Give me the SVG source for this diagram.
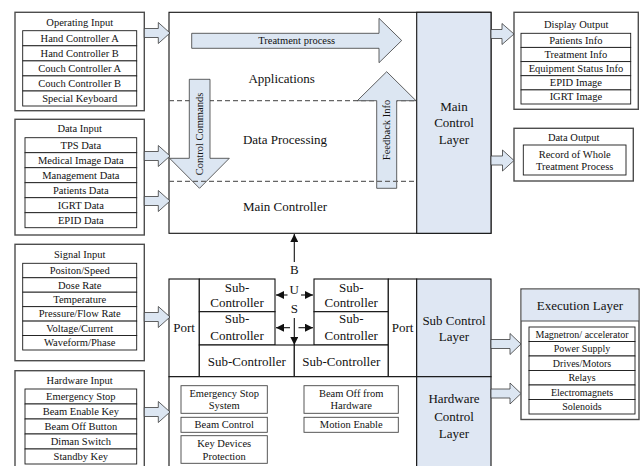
<svg xmlns="http://www.w3.org/2000/svg" width="641" height="466" viewBox="0 0 641 466">
<defs>
<style>
text { font-family: "Liberation Serif", "Times New Roman", serif; font-size: 10.5px; text-anchor: middle; fill: #111; }
.big { font-size: 13px; }
.sm { font-size: 10px; }
.outer { fill: #fff; stroke: #4d4d4d; stroke-width: 1.4; }
.cell { fill: #fff; stroke: #1a1a1a; stroke-width: 0.9; }
.gcell { fill: #fff; stroke: #444; stroke-width: 0.9; }
.frame { fill: #fff; stroke: #111; stroke-width: 1.1; }
.blue { fill: #dfe7f3; stroke: #111; stroke-width: 1.1; }
.arr { fill: #dce6f2; stroke: #3a3a3a; stroke-width: 0.8; }
.dash { stroke: #666; stroke-width: 1.2; stroke-dasharray: 5 3; fill: none; }
.bus { stroke: #111; stroke-width: 1.1; fill: none; }
</style>
<marker id="ah" viewBox="0 0 10 10" refX="10" refY="5" markerUnits="userSpaceOnUse" markerWidth="8" markerHeight="8" orient="auto">
<path d="M0,0 L10,5 L0,10 Z" fill="#111"/>
</marker>
</defs>
<rect width="641" height="466" fill="#fff"/>

<!-- Main controller block -->
<g id="main-controller">
<rect class="frame" x="169" y="12.3" width="322" height="221"/>
<rect class="blue" x="416.7" y="12.3" width="74.3" height="221"/>
<line class="dash" x1="169" y1="100.7" x2="416.7" y2="100.7"/>
<text class="big" x="281.7" y="82.7">Applications</text>
<text class="big" x="285" y="144.4">Data Processing</text>
<text class="big" x="285" y="211">Main Controller</text>
<text class="big" x="454" y="110.5">Main</text>
<text class="big" x="454" y="127">Control</text>
<text class="big" x="454" y="143.5">Layer</text>
</g>

<!-- Operating Input -->
<g id="operating-input">
<rect class="outer" x="15" y="12.3" width="129.3" height="98.4"/>
<text x="79.7" y="26">Operating Input</text>
<rect class="cell" x="22.7" y="30.7" width="114" height="15.1"/>
<rect class="cell" x="22.7" y="45.8" width="114" height="15.1"/>
<rect class="cell" x="22.7" y="60.9" width="114" height="15"/>
<rect class="cell" x="22.7" y="75.9" width="114" height="15.1"/>
<rect class="cell" x="22.7" y="91" width="114" height="15"/>
<text x="79.7" y="41.7">Hand Controller A</text>
<text x="79.7" y="56.8">Hand Controller B</text>
<text x="79.7" y="71.9">Couch Controller A</text>
<text x="79.7" y="87">Couch Controller B</text>
<text x="79.7" y="102">Special Keyboard</text>
</g>

<!-- Data Input -->
<g id="data-input">
<rect class="outer" x="15" y="119.3" width="129.3" height="115.7"/>
<text x="79.7" y="132">Data Input</text>
<rect class="cell" x="25" y="137.7" width="111.7" height="15"/>
<rect class="cell" x="25" y="152.7" width="111.7" height="15"/>
<rect class="cell" x="25" y="167.7" width="111.7" height="15"/>
<rect class="cell" x="25" y="182.7" width="111.7" height="15"/>
<rect class="cell" x="25" y="197.7" width="111.7" height="15"/>
<rect class="cell" x="25" y="212.7" width="111.7" height="15"/>
<text x="80.85" y="148.7">TPS Data</text>
<text x="80.85" y="163.7">Medical Image Data</text>
<text x="80.85" y="178.7">Management Data</text>
<text x="80.85" y="193.7">Patients Data</text>
<text x="80.85" y="208.7">IGRT Data</text>
<text x="80.85" y="223.7">EPID Data</text>
</g>

<!-- Signal Input -->
<g id="signal-input">
<rect class="outer" x="15" y="244.3" width="129.3" height="116.4"/>
<text x="79.7" y="257.5">Signal Input</text>
<rect class="cell" x="22.7" y="263.3" width="114" height="14.45"/>
<rect class="cell" x="22.7" y="277.75" width="114" height="14.45"/>
<rect class="cell" x="22.7" y="292.2" width="114" height="14.45"/>
<rect class="cell" x="22.7" y="306.65" width="114" height="14.45"/>
<rect class="cell" x="22.7" y="321.1" width="114" height="14.45"/>
<rect class="cell" x="22.7" y="335.55" width="114" height="14.45"/>
<text x="79.7" y="274">Positon/Speed</text>
<text x="79.7" y="288.5">Dose Rate</text>
<text x="79.7" y="302.9">Temperature</text>
<text x="79.7" y="317.4">Pressure/Flow Rate</text>
<text x="79.7" y="331.8">Voltage/Current</text>
<text x="79.7" y="346.3">Waveform/Phase</text>
</g>

<!-- Hardware Input -->
<g id="hardware-input">
<rect class="outer" x="15" y="370.7" width="129.3" height="100"/>
<text x="79.7" y="383.5">Hardware Input</text>
<rect class="cell" x="25" y="389" width="111.7" height="15"/>
<rect class="cell" x="25" y="404" width="111.7" height="15"/>
<rect class="cell" x="25" y="419" width="111.7" height="15"/>
<rect class="cell" x="25" y="434" width="111.7" height="15"/>
<rect class="cell" x="25" y="449" width="111.7" height="15"/>
<text x="80.85" y="400">Emergency Stop</text>
<text x="80.85" y="415">Beam Enable Key</text>
<text x="80.85" y="430">Beam Off Button</text>
<text x="80.85" y="445">Diman Switch</text>
<text x="80.85" y="460">Standby Key</text>
</g>

<!-- Display Output -->
<g id="display-output">
<rect class="outer" x="514" y="12.3" width="124.3" height="97"/>
<text x="576.2" y="27.5">Display Output</text>
<rect class="cell" x="521" y="33.3" width="109.7" height="14.1"/>
<rect class="cell" x="521" y="47.4" width="109.7" height="14.2"/>
<rect class="cell" x="521" y="61.6" width="109.7" height="14.1"/>
<rect class="cell" x="521" y="75.7" width="109.7" height="14.2"/>
<rect class="cell" x="521" y="89.9" width="109.7" height="14.1"/>
<text x="575.9" y="43.9">Patients Info</text>
<text x="575.9" y="58">Treatment Info</text>
<text x="575.9" y="72.1">Equipment Status Info</text>
<text x="575.9" y="86.3">EPID Image</text>
<text x="575.9" y="100.4">IGRT Image</text>
</g>

<!-- Data Output -->
<g id="data-output">
<rect class="outer" x="514" y="128.3" width="119.3" height="52.7"/>
<text x="573.7" y="140.8">Data Output</text>
<rect class="cell" x="523.3" y="145" width="102.7" height="30"/>
<text x="574.7" y="157.5">Record of Whole</text>
<text x="574.7" y="170.2">Treatment Process</text>
</g>

<!-- Sub control area -->
<g id="sub-control">
<rect class="frame" x="169" y="279" width="30.3" height="97.7"/>
<text class="big" x="184" y="332.4">Port</text>
<rect class="frame" x="199.3" y="279" width="75.7" height="32.7"/>
<rect class="frame" x="199.3" y="311.7" width="75.7" height="33.3"/>
<rect class="frame" x="314" y="279" width="74.3" height="32.7"/>
<rect class="frame" x="314" y="311.7" width="74.3" height="33.3"/>
<rect class="frame" x="199.3" y="345" width="95" height="31.7"/>
<rect class="frame" x="294.3" y="345" width="94" height="31.7"/>
<rect class="frame" x="388.3" y="279" width="28.4" height="97.7"/>
<text class="big" x="402.5" y="332.4">Port</text>
<text class="big" x="237" y="291.7">Sub-</text>
<text class="big" x="237" y="306.7">Controller</text>
<text class="big" x="237" y="322.7">Sub-</text>
<text class="big" x="237" y="340.4">Controller</text>
<text class="big" x="351.2" y="291.7">Sub-</text>
<text class="big" x="351.2" y="306.7">Controller</text>
<text class="big" x="351.2" y="322.7">Sub-</text>
<text class="big" x="351.2" y="340.4">Controller</text>
<text class="big" x="246.8" y="366">Sub-Controller</text>
<text class="big" x="341.3" y="366">Sub-Controller</text>
<rect class="blue" x="416.7" y="279" width="74.3" height="97.7"/>
<text class="big" x="454" y="325">Sub Control</text>
<text class="big" x="454" y="340.5">Layer</text>
</g>

<!-- Hardware control area -->
<g id="hardware-control">
<rect class="frame" x="169" y="376.7" width="247.7" height="95"/>
<rect class="gcell" x="181" y="385.7" width="86.3" height="27.6"/>
<text x="224.2" y="397">Emergency Stop</text>
<text x="224.2" y="409.2">System</text>
<rect class="gcell" x="181" y="417.3" width="86.3" height="15"/>
<text x="224.2" y="428.3">Beam Control</text>
<rect class="gcell" x="181" y="435.7" width="86.3" height="27.6"/>
<text x="224.2" y="446.8">Key Devices</text>
<text x="224.2" y="459.5">Protection</text>
<rect class="gcell" x="304" y="385.7" width="94.3" height="27.6"/>
<text x="351.2" y="397">Beam Off from</text>
<text x="351.2" y="409.2">Hardware</text>
<rect class="gcell" x="304" y="417.3" width="94.3" height="15"/>
<text x="351.2" y="428.3">Motion Enable</text>
<rect class="blue" x="416.7" y="376.7" width="74.3" height="95"/>
<text class="big" x="454" y="402.5">Hardware</text>
<text class="big" x="454" y="420.5">Control</text>
<text class="big" x="454" y="437.5">Layer</text>
</g>

<!-- Execution Layer -->
<g id="execution-layer">
<rect class="outer" x="521" y="289" width="118" height="130.5"/>
<rect x="521.7" y="289.7" width="116.6" height="31.3" fill="#dfe7f3"/>
<line x1="521" y1="321" x2="639" y2="321" stroke="#4d4d4d" stroke-width="1"/>
<text class="big" x="580" y="310.4">Execution Layer</text>
<rect class="cell" x="529" y="327" width="106" height="14.5"/>
<rect class="cell" x="529" y="341.5" width="106" height="14.5"/>
<rect class="cell" x="529" y="356" width="106" height="14.5"/>
<rect class="cell" x="529" y="370.5" width="106" height="14.5"/>
<rect class="cell" x="529" y="385" width="106" height="14.5"/>
<rect class="cell" x="529" y="399.5" width="106" height="14.5"/>
<text class="sm" x="582" y="337.7">Magnetron/ accelerator</text>
<text class="sm" x="582" y="352.2">Power Supply</text>
<text class="sm" x="582" y="366.7">Drives/Motors</text>
<text class="sm" x="582" y="381.2">Relays</text>
<text class="sm" x="582" y="395.7">Electromagnets</text>
<text class="sm" x="582" y="410.2">Solenoids</text>
</g>

<!-- Connectors -->
<g id="connectors">
<path class="arr" d="M144.3,28.5 L158.3,28.5 L158.3,22.5 L170,33 L158.3,43.5 L158.3,37.5 L144.3,37.5 Z"/>
<path class="arr" d="M144.3,151.5 L158.3,151.5 L158.3,145.5 L170,156 L158.3,166.5 L158.3,160.5 L144.3,160.5 Z"/>
<path class="arr" d="M144.3,196.5 L158.3,196.5 L158.3,190.5 L170,201 L158.3,211.5 L158.3,205.5 L144.3,205.5 Z"/>
<path class="arr" d="M144.3,312.5 L158.3,312.5 L158.3,306.5 L170,317 L158.3,327.5 L158.3,321.5 L144.3,321.5 Z"/>
<path class="arr" d="M144.3,407.5 L158.3,407.5 L158.3,401.5 L170,412 L158.3,422.5 L158.3,416.5 L144.3,416.5 Z"/>
<path class="arr" d="M491,29.5 L502,29.5 L502,23.5 L514,34 L502,44.5 L502,38.5 L491,38.5 Z"/>
<path class="arr" d="M491,156 L502.5,156 L502.5,150 L514,160.5 L502.5,171 L502.5,165 L491,165 Z"/>
<path class="arr" d="M491,339.5 L510,339.5 L510,333.5 L521,344 L510,354.5 L510,348.5 L491,348.5 Z"/>
<path class="arr" d="M491,389 L510,389 L510,383 L521,393.5 L510,404 L510,398 L491,398 Z"/>
<path class="arr" d="M191.7,33.3 L379,33.3 L379,18.3 L401.7,40.5 L379,62.7 L379,48.3 L191.7,48.3 Z"/>
<text x="296.7" y="44.3">Treatment process</text>
<path class="arr" d="M189.3,79.3 L210,79.3 L210,158.3 L229.3,158.3 L199.5,188.3 L169.6,158.3 L189.3,158.3 Z"/>
<text transform="translate(203.2,134) rotate(-90)">Control Commands</text>
<path class="arr" d="M376.7,188.3 L396.7,188.3 L396.7,100.7 L416,100.7 L386.7,71.7 L357.3,100.7 L376.7,100.7 Z"/>
<text transform="translate(390.4,130) rotate(-90)">Feedback Info</text>
<line class="dash" x1="169" y1="181.3" x2="416.7" y2="181.3"/>
<line class="bus" x1="294.3" y1="262" x2="294.3" y2="234" marker-end="url(#ah)"/>
<text class="big" x="294.3" y="274.4">B</text>
<text class="big" x="294.3" y="294.4">U</text>
<text class="big" x="294.3" y="313.4">S</text>
<line class="bus" x1="294.3" y1="318" x2="294.3" y2="345" marker-end="url(#ah)"/>
<line class="bus" x1="287.5" y1="295" x2="276" y2="295" marker-end="url(#ah)"/>
<line class="bus" x1="301" y1="295" x2="313" y2="295" marker-end="url(#ah)"/>
<line class="bus" x1="290" y1="327.7" x2="276" y2="327.7" marker-end="url(#ah)"/>
<line class="bus" x1="298.5" y1="327.7" x2="313" y2="327.7" marker-end="url(#ah)"/>
</g>
</svg>
